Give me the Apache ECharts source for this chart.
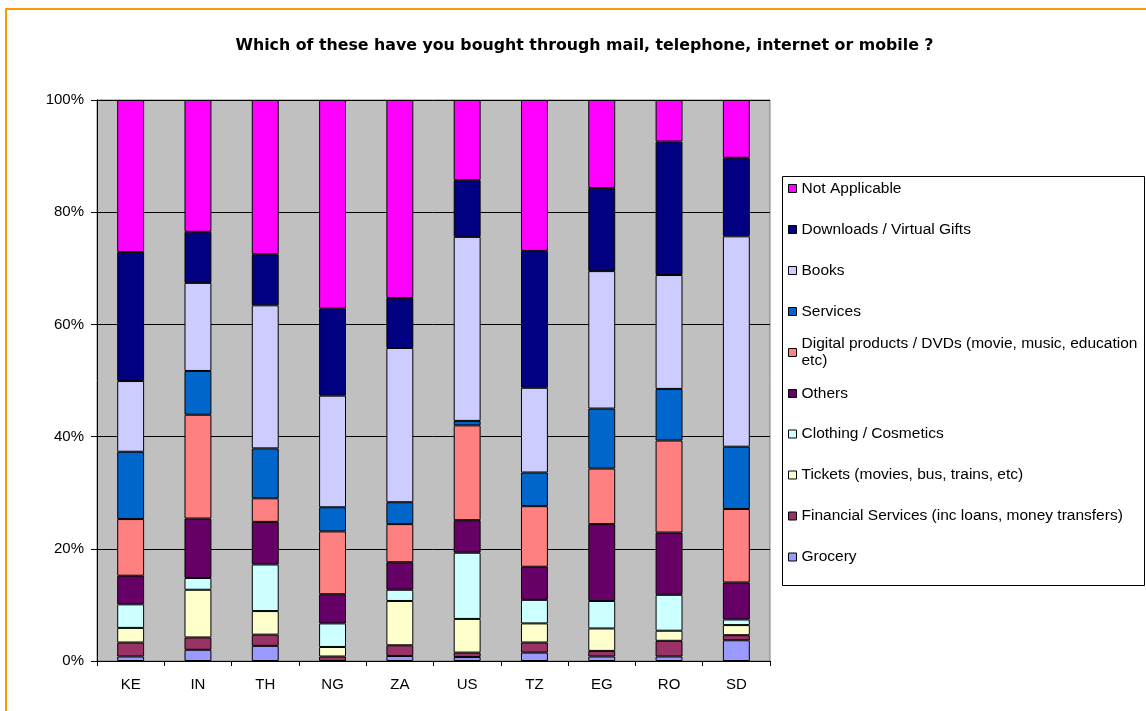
<!DOCTYPE html>
<html>
<head>
<meta charset="utf-8">
<script src="https://cdn.jsdelivr.net/npm/echarts@6/dist/echarts.min.js"></script>
<style>
  html, body { margin: 0; padding: 0; background: #ffffff; }
  #chart { width: 1146px; height: 711px; }
</style>
</head>
<body>
<div id="chart"></div>
<script>
// Countries along the x axis
const countries = ['KE', 'IN', 'TH', 'NG', 'ZA', 'US', 'TZ', 'EG', 'RO', 'SD'];

// Share of respondents (%) per purchase type, stacked bottom to top
const grocery     = [0.8, 2.0, 2.7, 0.0, 0.9, 0.7, 1.5, 0.8, 0.8, 3.7];
const financial   = [2.5, 2.2, 2.0, 0.8, 1.9, 0.8, 1.8, 1.0, 2.8, 0.9];
const tickets     = [2.6, 8.5, 4.2, 1.7, 7.9, 6.0, 3.4, 4.0, 1.8, 1.8];
const clothing    = [4.2, 2.1, 8.3, 4.2, 2.0, 11.8, 4.2, 4.9, 6.4, 1.0];
const others      = [5.1, 10.6, 7.6, 5.2, 4.9, 5.8, 5.9, 13.7, 11.1, 6.6];
const digital     = [10.1, 18.5, 4.2, 11.2, 6.8, 16.9, 10.8, 9.9, 16.4, 13.1];
const services    = [12.0, 7.8, 8.9, 4.3, 3.9, 0.8, 6.0, 10.7, 9.2, 11.1];
const books       = [12.6, 15.7, 25.5, 19.9, 27.5, 32.8, 15.1, 24.5, 20.3, 37.5];
const downloads   = [23.0, 9.1, 9.1, 15.5, 8.9, 10.1, 24.4, 14.8, 23.8, 14.0];
const notApplic   = [27.1, 23.5, 27.5, 37.2, 35.3, 14.3, 26.9, 15.7, 7.4, 10.3];

// Y axis tick values
const yTicks = [0, 20, 40, 60, 80, 100];

// Series names, values and fills in stacking order (bottom first)
const seriesNames = [
  'Grocery',
  'Financial Services (inc loans, money transfers)',
  'Tickets (movies, bus, trains, etc)',
  'Clothing / Cosmetics',
  'Others',
  'Digital products / DVDs (movie, music, education etc)',
  'Services',
  'Books',
  'Downloads / Virtual Gifts',
  'Not Applicable'
];
const seriesValues = [grocery, financial, tickets, clothing, others, digital, services, books, downloads, notApplic];
const seriesColors = ['#9999FF', '#993366', '#FFFFCC', '#CCFFFF', '#660066', '#FF8080', '#0066CC', '#CCCCFF', '#000080', '#FF00FF'];

const FONT = 'Liberation Sans, Arial, sans-serif';

const series = seriesNames.map((name, i) => ({
  name: name,
  type: 'bar',
  stack: 'total',
  barWidth: '40%',
  data: seriesValues[i],
  itemStyle: { color: seriesColors[i], borderColor: '#000000', borderWidth: 1 },
  emphasis: { disabled: true }
}));

// One legend per entry so every row sits on its own fixed line
const legendOrder = seriesNames.slice().reverse();
const legendRowCenters = [188.5, 229.5, 270.5, 311.5, 352.5, 393.5, 434, 475, 516, 557];
const legends = legendOrder.map((name, i) => {
  const isDigital = name.indexOf('Digital') === 0;
  return {
    data: [name],
    orient: 'vertical',
    left: 788,
    top: isDigital ? legendRowCenters[i] - 25.5 : legendRowCenters[i] - 8.5,
    padding: 0,
    icon: 'rect',
    itemWidth: 8,
    itemHeight: 8,
    selectedMode: false,
    itemStyle: { borderColor: '#000000', borderWidth: 1 },
    formatter: isDigital ? function () { return 'Digital products / DVDs (movie, music, education\netc)'; } : '{name}',
    textStyle: {
      color: '#000000',
      fontFamily: FONT,
      fontSize: 15.5,
      lineHeight: 17,
      padding: isDigital ? [17, 0, 0, 0] : 0
    }
  };
});

const chart = echarts.init(document.getElementById('chart'), null, { renderer: 'canvas' });

chart.setOption({
  backgroundColor: '#ffffff',
  animation: false,
  title: {
    text: 'Which of these have you bought through mail, telephone, internet or mobile ?',
    left: 584.5,
    top: 38,
    textAlign: 'center',
    padding: 0,
    textStyle: { fontFamily: 'DejaVu Sans, sans-serif', fontSize: 15.8, fontWeight: 'bold', color: '#000000' }
  },
  legend: legends,
  grid: {
    left: 97,
    right: 376,
    top: 100,
    bottom: 50,
    show: true,
    backgroundColor: '#C0C0C0',
    borderColor: '#808080',
    borderWidth: 1
  },
  xAxis: {
    type: 'category',
    data: countries,
    axisLine: { lineStyle: { color: '#000000', width: 1 } },
    axisTick: { show: true, length: 5, lineStyle: { color: '#000000' } },
    axisLabel: { color: '#000000', fontFamily: FONT, fontSize: 15, margin: 16 },
    splitLine: { show: false }
  },
  yAxis: {
    type: 'value',
    min: yTicks[0],
    max: yTicks[yTicks.length - 1],
    interval: yTicks[1] - yTicks[0],
    axisLine: { show: true, lineStyle: { color: '#000000', width: 1 } },
    axisTick: { show: true, length: 6, lineStyle: { color: '#000000' } },
    axisLabel: { color: '#000000', fontFamily: FONT, fontSize: 15, margin: 13, formatter: '{value}%' },
    splitLine: { show: true, lineStyle: { color: '#000000', width: 1 } }
  },
  series: series,
  graphic: [
    {
      type: 'rect',
      silent: true,
      shape: { x: 6, y: 9, width: 1200, height: 800 },
      style: { fill: 'none', stroke: '#FF9900', lineWidth: 2 }
    },
    {
      type: 'rect',
      silent: true,
      shape: { x: 782.5, y: 176.5, width: 362, height: 409 },
      style: { fill: 'none', stroke: '#000000', lineWidth: 1 }
    }
  ]
});
</script>
</body>
</html>
